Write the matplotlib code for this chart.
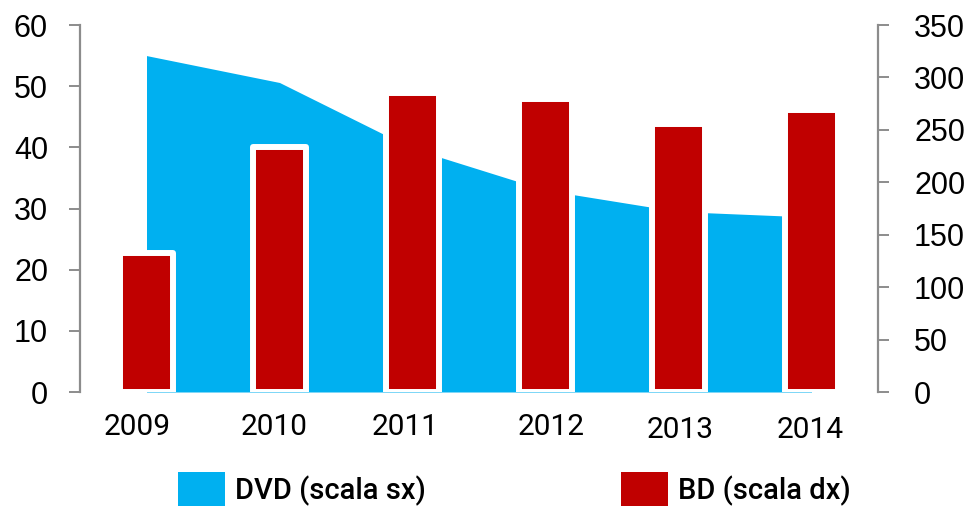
import matplotlib
matplotlib.use("Agg")
import matplotlib.pyplot as plt
import matplotlib.transforms as mtransforms
from matplotlib.patches import Patch
import numpy as np

years = ["2009", "2010", "2011", "2012", "2013", "2014"]
dvd = [55.0, 50.6, 39.8, 33.0, 29.5, 28.6]      # left scale
bd = [133, 234, 285, 279, 256, 269]              # right scale

BLUE = "#00B0F0"
RED = "#C00000"
GREY = "#8C8C8C"

num_font = ["Liberation Sans Narrow", "Liberation Sans", "DejaVu Sans"]
lab_font = ["Roboto", "DejaVu Sans"]

fig = plt.figure(figsize=(9.69, 5.09), dpi=100)
ax = fig.add_axes([80/969, 1 - 392/509, (878 - 80)/969, (392 - 25)/509])
ax2 = ax.twinx()

x = np.arange(len(years))

# DVD as area on the left axis
ax.fill_between(x, dvd, 0, color=BLUE, linewidth=0)
ax.set_xlim(-0.5, 5.5)
ax.set_ylim(0, 60)
ax.set_yticks(range(0, 61, 10))

# BD as bars on the right axis, white rim over the area
ax2.bar(x, bd, width=0.405, color=RED, edgecolor="white",
        linewidth=4.3, joinstyle="round")
ax2.set_ylim(0, 350)
ax2.set_yticks(range(0, 351, 50))

for a in (ax, ax2):
    for s in ("top", "bottom"):
        a.spines[s].set_visible(False)
ax.spines["right"].set_visible(False)
ax2.spines["left"].set_visible(False)
ax.spines["left"].set_color(GREY)
ax.spines["left"].set_linewidth(1.6)
ax2.spines["right"].set_color(GREY)
ax2.spines["right"].set_linewidth(1.6)

ax.tick_params(axis="y", length=8, width=1.4, color=GREY, pad=15)
ax2.tick_params(axis="y", length=8, width=1.4, color=GREY, pad=18)
for lab in ax.get_yticklabels() + ax2.get_yticklabels():
    lab.set_family(num_font)
    lab.set_fontsize(22)

ax.set_xticks(x)
ax.set_xticklabels(years, family=lab_font, fontsize=21.5)
ax.tick_params(axis="x", length=0, pad=15)
# the year labels sit a little off-centre in the original
nudges = [(-9, 0), (-5, 0), (-7, 0), (6, 0), (2, -3), (-1, -3)]
for lab, (dx, dy) in zip(ax.get_xticklabels(), nudges):
    lab.set_transform(lab.get_transform() +
                      mtransforms.ScaledTranslation(dx/100, dy/100, fig.dpi_scale_trans))

handles = [Patch(facecolor=BLUE, label="DVD (scala sx)"),
           Patch(facecolor=RED, label="BD (scala dx)")]
leg = fig.legend(handles=handles, loc="lower left", ncol=2,
                 bbox_to_anchor=(178/969, 0.006), frameon=False,
                 prop={"family": lab_font, "size": 21, "weight": "medium"},
                 handlelength=1.6, handleheight=1.4, handletextpad=0.35,
                 columnspacing=6.7, borderpad=0, borderaxespad=0)

fig.savefig("out.png", dpi=100)
